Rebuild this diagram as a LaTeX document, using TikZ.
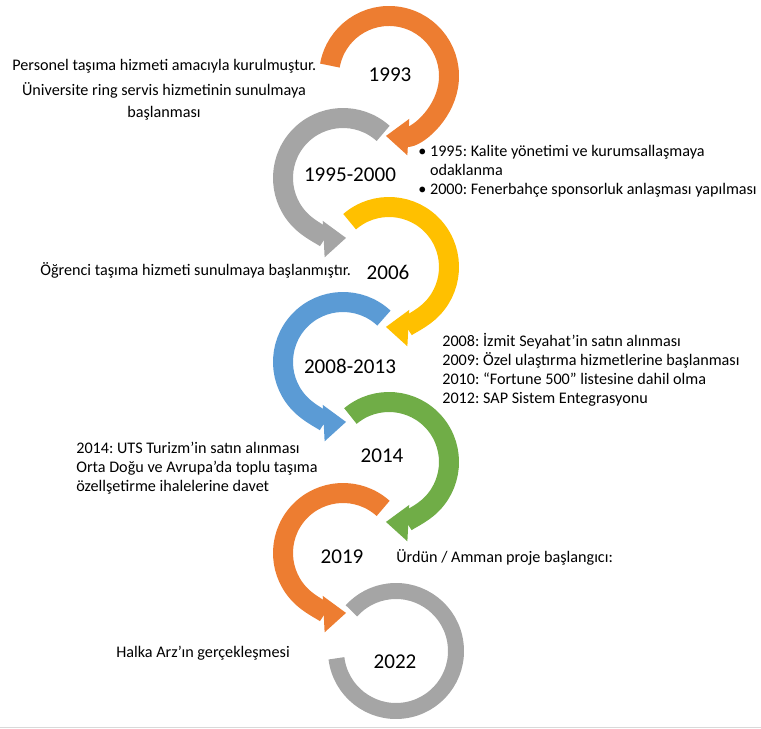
\documentclass[tikz,border=0pt]{standalone}
\usepackage{fontspec}
\setmainfont{Carlito}
\frenchspacing
\usetikzlibrary{arrows.meta}
\definecolor{tlorange}{HTML}{ED7D31}
\definecolor{tlgray}{HTML}{A5A5A5}
\definecolor{tlyellow}{HTML}{FFC000}
\definecolor{tlblue}{HTML}{5B9BD5}
\definecolor{tlgreen}{HTML}{70AD47}
\tikzset{
  turn arrow/.style={line width=0.4cm, -{Triangle[width=0.7cm,length=0.45cm]}},
  year/.style={font=\fontsize{12}{14}\selectfont, inner sep=0pt},
  note/.style={font=\fontsize{9.2}{10.8}\selectfont, inner sep=0pt, align=left}
}
\begin{document}
\begin{tikzpicture}[x=0.02cm,y=0.02cm,line join=round]
  \useasboundingbox (0,0) rectangle (761,-729);
  % centres of the rings
  \coordinate (c1) at (389,-76);
  \coordinate (c2) at (343,-178);
  \coordinate (c3) at (389,-267);
  \coordinate (c4) at (343,-362);
  \coordinate (c5) at (389,-462);
  \coordinate (c6) at (343,-553);
  \coordinate (c7) at (396,-651);

  \foreach \c/\s/\e/\col in {c1/170/-93/tlorange, c2/48/273/tlgray,
      c3/131/-93/tlyellow, c4/47/273/tlblue, c5/130/-93/tlgreen,
      c6/48/273/tlorange} {
      \draw [turn arrow, color=\col] ([shift={(\s:60)}]\c) arc[start angle=\s, end angle=\e, radius=60];
    }
  \draw [tlgray, line width=0.32cm] ([shift={(-173:60)}]c7) arc[start angle=-173, end angle=138, radius=60];

  % years
  \node[year] (y1993) at (390,-75) {1993};
  \node[year] (y1995) at (350,-175) {1995-2000};
  \node[year] (y2006) at (388,-272) {2006};
  \node[year] (y2008) at (350,-366) {2008-2013};
  \node[year] (y2014) at (382,-456) {2014};
  \node[year] (y2019) at (342,-557) {2019};
  \node[year] (y2022) at (395,-662) {2022};

  % events
  \node[note, anchor=west] (n1993a) at (12,-66) {Personel taşıma hizmeti amacıyla kurulmuştur.};
  \node[note, align=center, font=\fontsize{9.2}{12.5}\selectfont] (n1993b) at (164,-101)
    {Üniversite ring servis hizmetinin sunulmaya\\başlanması};
  \node[note, anchor=west] (n1995) at (418,-171)
    {• 1995: Kalite yönetimi ve kurumsallaşmaya\\\hphantom{• }odaklanma\\• 2000: Fenerbahçe sponsorluk anlaşması yapılması};
  \node[note, anchor=west] (n2006) at (40,-270) {Öğrenci taşıma hizmeti sunulmaya başlanmıştır.};
  \node[note, anchor=west] (n2008) at (442,-370)
    {2008: İzmit Seyahat’in satın alınması\\2009: Özel ulaştırma hizmetlerine başlanması\\2010: “Fortune 500” listesine dahil olma\\2012: SAP Sistem Entegrasyonu};
  \node[note, anchor=west] (n2014) at (76,-468)
    {2014: UTS Turizm’in satın alınması\\Orta Doğu ve Avrupa’da toplu taşıma\\özellşetirme ihalelerine davet};
  \node[note, anchor=west] (n2019) at (396,-557) {Ürdün / Amman proje başlangıcı:};
  \node[note, anchor=west] (n2022) at (116,-653) {Halka Arz’ın gerçekleşmesi};

  \draw [black!15, line width=0.02cm] (0,-727.5) -- (761,-727.5);
\end{tikzpicture}
\end{document}
